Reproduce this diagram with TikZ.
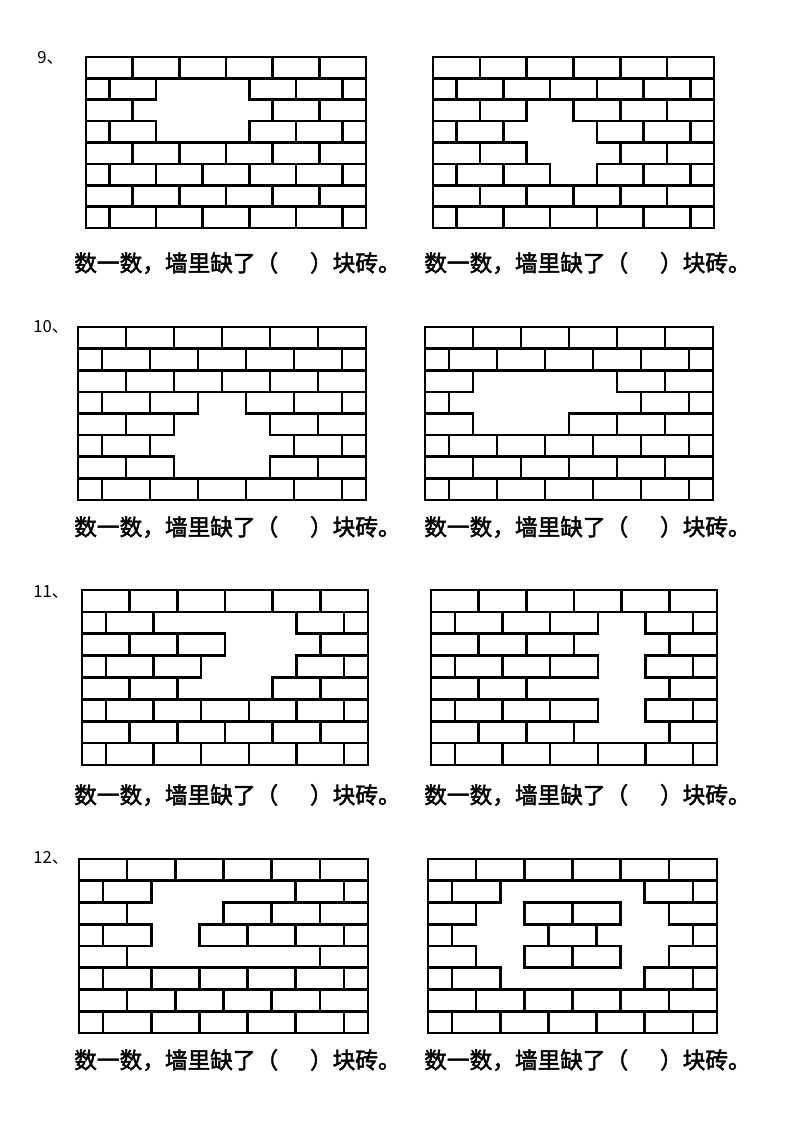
\documentclass[tikz,border=0pt]{standalone}
\usepackage{fontspec}
\newfontfamily\cjk{Noto Sans CJK SC}[FakeBold=2]
\newfontfamily\cjkn{Noto Sans CJK SC}
\makeatletter
\newcommand\brickwall[5]{%
 \pgfmathsetmacro\hu{(#3-#1)/12}\pgfmathsetmacro\rh{(#4-#2)/8}%
 \foreach \r in {0,...,7}{%
   \pgfmathtruncatemacro\odd{mod(\r,2)}%
   \ifnum\odd=0 \def\bl{0/2,2/2,4/2,6/2,8/2,10/2}\else \def\bl{0/1,1/2,3/2,5/2,7/2,9/2,11/1}\fi
   \foreach \s/\w in \bl {%
     \edef\key{,\r-\s,}%
     \expandafter\in@\expandafter{\key}{,#5,}%
     \ifin@\else \draw[brick] (#1+\s*\hu, #2+\r*\rh) rectangle ++(\w*\hu,\rh);\fi
   }}}
\makeatother
\begin{document}
\begin{tikzpicture}[x=0.75pt,y=-0.75pt,
  brick/.style={line width=1.9pt,line join=miter},
  q/.style={anchor=west,inner sep=0pt,font=\cjk\fontsize{17pt}{17pt}\selectfont},
  num/.style={anchor=west,inner sep=0pt,font=\cjkn\fontsize{12.5pt}{12.5pt}\selectfont}]
\useasboundingbox[fill=white] (0,0) rectangle (794,1123);
\brickwall{86}{57}{366}{228}{1-3,1-5,2-2,2-4,2-6,3-3,3-5}
\brickwall{433}{57}{714}{228}{2-4,3-3,3-5,4-4,4-6,5-5}
\brickwall{78}{327}{366}{500}{3-5,4-4,4-6,5-3,5-5,5-7,6-4,6-6}
\brickwall{425}{327}{713}{500}{2-2,2-4,2-6,3-1,3-3,3-5,3-7,4-2,4-4}
\brickwall{82}{590}{368}{765}{1-3,1-5,1-7,2-6,2-8,3-5,3-7,4-4,4-6}
\brickwall{431}{590}{717}{765}{1-7,2-6,2-8,3-7,4-4,4-6,4-8,5-7,6-6,6-8}
\brickwall{79}{859}{368}{1033}{1-3,1-5,1-7,2-2,2-4,3-3,4-2,4-4,4-6,4-8}
\brickwall{428}{859}{717}{1033}{1-3,1-5,1-7,2-2,2-8,3-1,3-3,3-7,3-9,4-2,4-8,5-3,5-5,5-7}
\node[num] (n9) at (37,58) {9、};
\node[num] (n10) at (33,327) {10、};
\node[num] (n11) at (33,592) {11、};
\node[num] (n12) at (33,858) {12、};
\foreach \y [count=\i] in {263,527,795,1060}{
  \node[q] (ql\i) at (74,\y) {数一数，墙里缺了（\hspace{1.4em}）块砖。};
  \node[q] (qr\i) at (424,\y) {数一数，墙里缺了（\hspace{1.4em}）块砖。};
}
\end{tikzpicture}
\end{document}
